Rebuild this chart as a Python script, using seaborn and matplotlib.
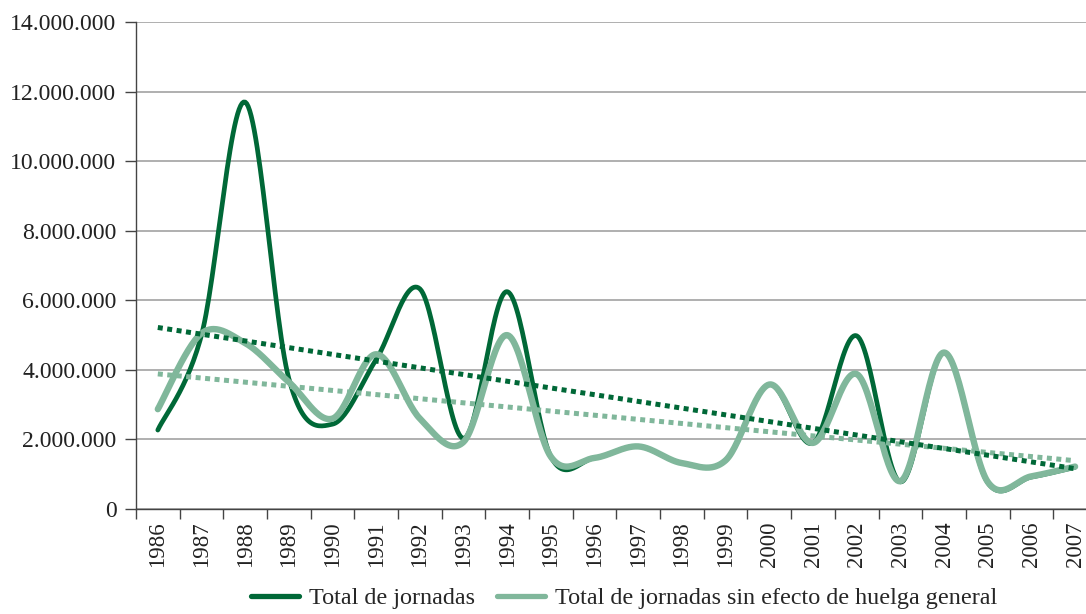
import numpy as np
import pandas as pd
import seaborn as sns
import matplotlib.pyplot as plt
from matplotlib.lines import Line2D
from matplotlib.ticker import FuncFormatter

years = [str(y) for y in range(1986, 2008)]
total = [2270000, 5000000, 11700000, 3750000, 2440000, 4300000, 6330000, 2030000,
         6250000, 1500000, 1470000, 1800000, 1320000, 1400000, 3580000, 1900000,
         4980000, 780000, 4500000, 760000, 920000, 1200000]
sin_huelga = [2870000, 5050000, 4770000, 3650000, 2600000, 4450000, 2600000, 1930000,
              5000000, 1500000, 1470000, 1800000, 1320000, 1400000, 3580000, 1900000,
              3880000, 800000, 4500000, 780000, 940000, 1220000]
labels = ["Total de jornadas", "Total de jornadas sin efecto de huelga general"]

dark = "#006837"
light = "#80b79b"


def smooth(vals, n=30):
    # Excel-like smoothed line (Catmull-Rom bezier)
    p = np.array(vals, dtype=float)
    x = np.arange(len(p), dtype=float)
    px = np.concatenate([[x[0]], x, [x[-1]]])
    py = np.concatenate([[p[0]], p, [p[-1]]])
    xs, ys = [], []
    t = np.linspace(0, 1, n)
    for i in range(1, len(px) - 2):
        x0, y0 = px[i], py[i]
        x3, y3 = px[i + 1], py[i + 1]
        x1 = x0 + (px[i + 1] - px[i - 1]) / 6
        y1 = y0 + (py[i + 1] - py[i - 1]) / 6
        x2 = x3 - (px[i + 2] - px[i]) / 6
        y2 = y3 - (py[i + 2] - py[i]) / 6
        bx = (1 - t) ** 3 * x0 + 3 * (1 - t) ** 2 * t * x1 + 3 * (1 - t) * t ** 2 * x2 + t ** 3 * x3
        by = (1 - t) ** 3 * y0 + 3 * (1 - t) ** 2 * t * y1 + 3 * (1 - t) * t ** 2 * y2 + t ** 3 * y3
        xs.extend(bx)
        ys.extend(by)
    return np.array(xs), np.array(ys)


sns.set_theme(style="white")
plt.rcParams['font.family'] = ['Liberation Serif', 'DejaVu Serif']

fig = plt.figure(figsize=(10.86, 6.14), dpi=100)
ax = fig.add_axes([0.1252, 0.171, 0.8748, 0.793])

idx = np.arange(len(years))
for vals, col, lw, z in [(total, dark, 3.4, 2), (sin_huelga, light, 4.6, 3)]:
    sx, sy = smooth(vals)
    sns.lineplot(x=sx, y=sy, color=col, lw=lw, ax=ax, sort=False, zorder=z)

for vals, col, z in [(total, dark, 5), (sin_huelga, light, 4)]:
    sns.regplot(x=idx, y=np.array(vals), ax=ax, ci=None, scatter=False, truncate=True,
                line_kws={'color': col, 'lw': 3.6, 'ls': (0, (1, 0.9)), 'zorder': z,
                          'solid_capstyle': 'butt', 'dash_capstyle': 'butt'})

ax.set_yticks(np.arange(0, 14000001, 2000000))
ax.yaxis.set_major_formatter(FuncFormatter(lambda v, p: f"{int(v):,}".replace(",", ".")))
ax.grid(axis='y', color='#9a9a9a', lw=1.1)
ax.set_axisbelow(True)

ax.set_xticks(idx)
ax.set_xticklabels(years, rotation=90)
ax.set_xticks(np.arange(-0.5, 22, 1), minor=True)
ax.set_ylim(0, 14000000)
ax.set_xlim(-0.5, 21.25)
ax.tick_params(axis='x', which='major', length=0, pad=9, labelsize=16.5, colors='#222222')
ax.tick_params(axis='x', which='minor', length=7, width=1, color='#444444', direction='out', bottom=True)
ax.tick_params(axis='y', length=8, width=1, color='#444444', direction='out', left=True,
               labelsize=17.1, colors='#222222', pad=6)

for s in ['top', 'right']:
    ax.spines[s].set_visible(False)
for s in ['left', 'bottom']:
    ax.spines[s].set_color('#444444')
    ax.spines[s].set_linewidth(1)
ax.set_xlabel("")
ax.set_ylabel("")

handles = [Line2D([], [], color=dark, lw=3.8), Line2D([], [], color=light, lw=3.8)]
fig.legend(handles, labels, loc='center', bbox_to_anchor=(0.5746, 0.026), ncol=2,
           frameon=False, fontsize=17.4, handlelength=2.0, columnspacing=0.9,
           handletextpad=0.4, borderpad=0, borderaxespad=0)

fig.savefig("out.png", dpi=100)
